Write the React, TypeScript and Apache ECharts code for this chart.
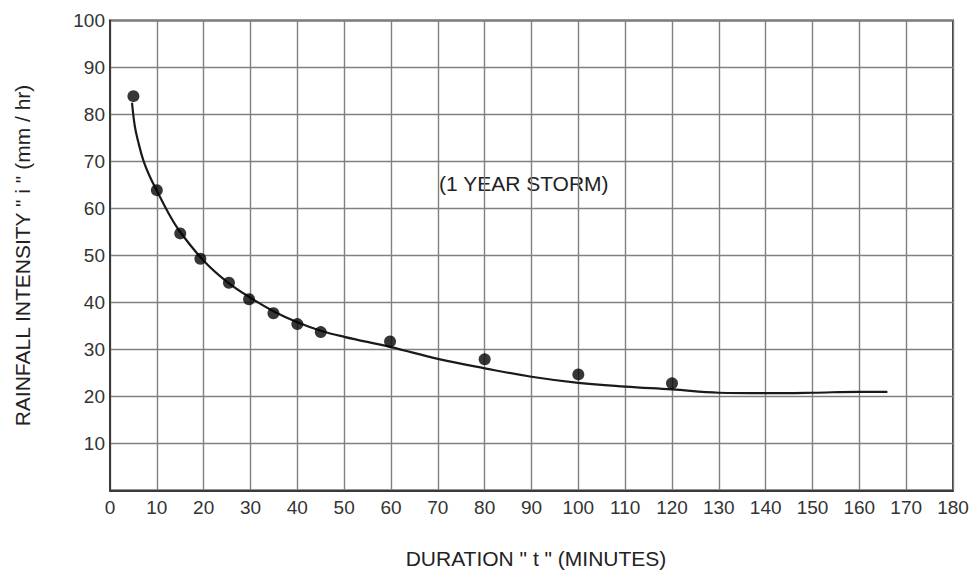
import React, { useEffect, useRef } from "react";
import * as echarts from "echarts";

const observedX = [5, 10, 15, 19.3, 25.4, 29.7, 34.9, 40, 45, 59.8, 80, 100, 120];
const observedY = [83.9, 63.9, 54.7, 49.3, 44.2, 40.7, 37.7, 35.4, 33.7, 31.7, 27.9, 24.7, 22.8];

const curveX = [4.7, 5.3, 6, 7.1, 8.5, 10, 12.5, 15, 20, 25, 30, 35, 40, 45, 50, 60, 70, 80, 90, 100, 110, 120, 130, 140, 150, 160, 166];
const curveY = [82.5, 77.5, 74.3, 70.3, 66.8, 63.8, 59.0, 55.0, 48.9, 44.4, 41.0, 38.1, 35.8, 34.0, 32.7, 30.5, 28.0, 26.0, 24.2, 22.9, 22.1, 21.5, 20.8, 20.7, 20.8, 21.0, 21.0];

const xTicks = { min: 0, max: 180, step: 10 };
const yTicks = { min: 0, max: 100, step: 10 };

const storyLabel = "(1 YEAR STORM)";
const xTitle = 'DURATION " t " (MINUTES)';
const yTitle = 'RAINFALL INTENSITY " i " (mm / hr)';

export default function App() {
  const ref = useRef<HTMLDivElement>(null);
  useEffect(() => {
    if (!ref.current) return;
    const chart = echarts.init(ref.current, null, { renderer: "svg" });
    const font = "'Liberation Sans', Arial, sans-serif";
    chart.setOption({
      animation: false,
      backgroundColor: "#ffffff",
      grid: {
        left: 110,
        right: 20,
        top: 20.5,
        bottom: 86.5,
        show: true,
        borderColor: "#3a3a3a",
        borderWidth: 2,
        backgroundColor: "transparent",
      },
      xAxis: {
        type: "value",
        min: xTicks.min,
        max: xTicks.max,
        interval: xTicks.step,
        name: xTitle,
        nameLocation: "middle",
        nameGap: 57,
        nameTextStyle: { fontFamily: font, fontSize: 21, color: "#222", padding: [0, 0, 0, 9] },
        axisLine: { show: true, onZero: false, lineStyle: { color: "#3a3a3a", width: 2 } },
        axisTick: { show: false },
        axisLabel: { fontFamily: font, fontSize: 19, color: "#333", margin: 7 },
        splitLine: { show: true, lineStyle: { color: "#808080", width: 1.4 } },
      },
      yAxis: {
        type: "value",
        min: yTicks.min,
        max: yTicks.max,
        interval: yTicks.step,
        name: yTitle,
        nameLocation: "middle",
        nameGap: 77,
        nameTextStyle: { fontFamily: font, fontSize: 21, color: "#222" },
        axisLine: { show: true, lineStyle: { color: "#3a3a3a", width: 2 } },
        axisTick: { show: false },
        axisLabel: {
          fontFamily: font,
          fontSize: 19,
          color: "#333",
          margin: 5,
          formatter: (v: number) => (v === 0 ? "" : String(v)),
        },
        splitLine: { show: true, lineStyle: { color: "#808080", width: 1.4 } },
      },
      graphic: [
        {
          type: "text",
          left: 439,
          top: 173,
          style: { text: storyLabel, fontFamily: font, fontSize: 21, fill: "#222" },
        },
      ],
      series: [
        {
          type: "line",
          data: curveX.map((x, i) => [x, curveY[i]]),
          smooth: 0.4,
          showSymbol: false,
          lineStyle: { color: "#1a1a1a", width: 2.2 },
          z: 3,
        },
        {
          type: "scatter",
          data: observedX.map((x, i) => [x, observedY[i]]),
          symbol: "circle",
          symbolSize: 12,
          itemStyle: { color: "#050505" },
          z: 4,
        },
      ],
    });
    return () => chart.dispose();
  }, []);
  return (
    <div
      ref={ref}
      style={{ position: "fixed", left: 0, top: 0, width: 973, height: 577 }}
    />
  );
}
